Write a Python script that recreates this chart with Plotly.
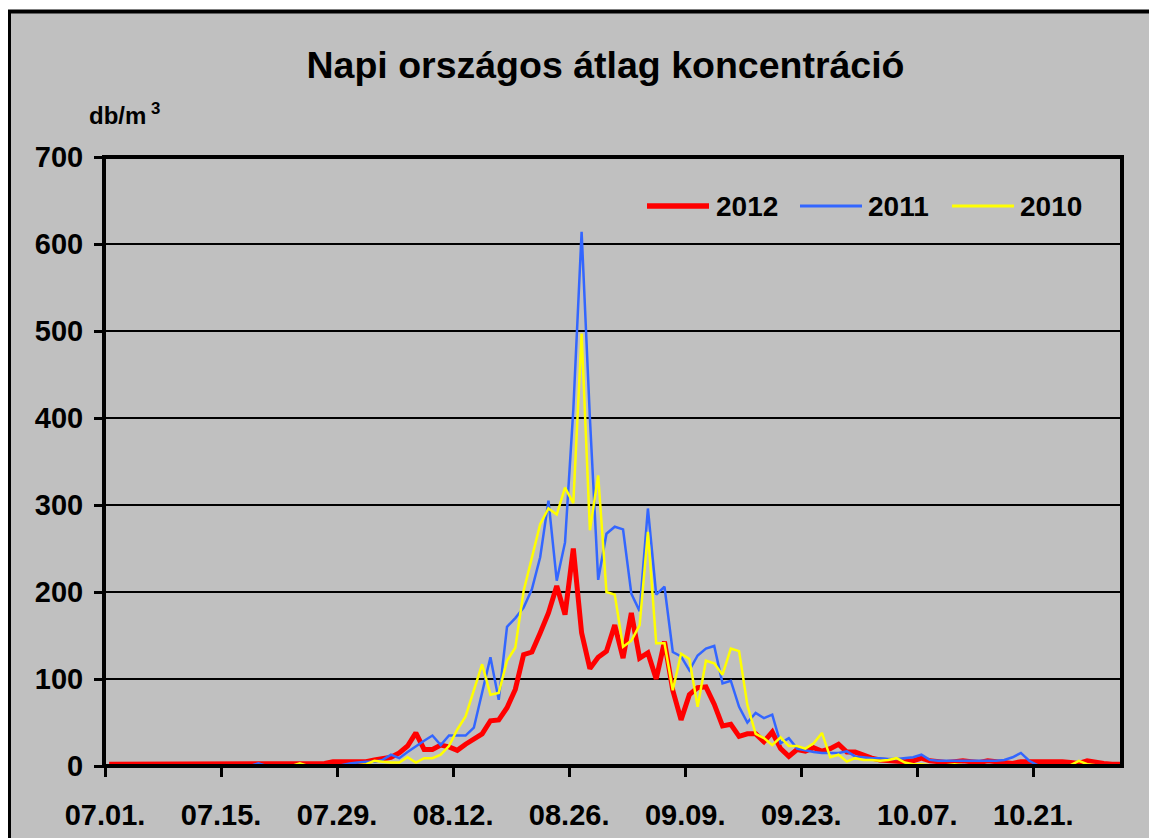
import pandas as pd
import plotly.graph_objects as go

# ---------------- data ----------------
dates = pd.date_range("2012-07-01", "2012-10-31", freq="D")

series_names = ["2012", "2011", "2010"]

y2012 = ([2] * 26 +
         [3, 5, 5, 5, 5, 5, 7, 8, 10, 15, 23, 38, 19, 19, 24, 22, 18, 25, 31, 37,
          52, 53, 67, 88, 128, 131, 153, 176, 207, 174, 250, 153, 112, 125, 132, 162,
          124, 176, 124, 130, 100, 143, 87, 53, 82, 90, 91, 71, 46, 48, 34, 37, 37,
          28, 39, 20, 11, 19, 17, 21, 17, 20, 25, 16, 16, 12, 9, 7, 6, 5, 5, 6, 9,
          6, 5, 4, 5, 6, 5, 4, 6, 5, 4, 3, 5, 5, 6, 6, 6, 5, 4, 3, 6, 4, 3, 2, 2])

y2011 = ([0] * 18 + [3] + [0] * 9 +
         [1, 3, 4, 5, 5, 7, 13, 9, 16, 23, 29, 35, 24, 35, 35, 35, 44, 86, 125, 76,
          160, 170, 182, 203, 240, 305, 213, 257, 410, 614, 400, 214, 267, 275, 272,
          198, 178, 296, 197, 206, 131, 126, 110, 127, 135, 138, 95, 98, 68, 50, 61,
          55, 59, 26, 32, 20, 18, 16, 15, 15, 15, 17, 11, 10, 9, 9, 8, 8, 9, 10, 13,
          7, 6, 6, 6, 6, 6, 6, 6, 6, 7, 10, 15, 6] + [1] * 11)

y2010 = ([0] * 23 + [3] + [0] * 3 +
         [1, 1, 1, 1, 2, 6, 5, 4, 4, 10, 4, 9, 9, 13, 23, 42, 57, 86, 117, 82, 84,
          121, 136, 201, 239, 278, 296, 289, 320, 302, 497, 271, 334, 200, 197, 137,
          144, 162, 269, 141, 141, 87, 129, 123, 68, 121, 118, 105, 135, 132, 70, 37,
          32, 24, 33, 23, 23, 20, 26, 38, 10, 13, 5, 9, 7, 7, 6, 7, 9, 4, 2, 2, 1,
          1, 1, 2, 1, 1, 1, 1, 1, 1, 1, 1, 1, 1, 1, 1, 1, 1, 6, 2, 1, 1, 1, 1])

series_values = [y2012, y2011, y2010]
for v in series_values:
    assert len(v) == len(dates), len(v)

title_text = "Napi országos átlag koncentráció"
unit_text = "db/m<sup> 3</sup>"

# ---------------- styles ----------------
colors = ["#FF0000", "#3366FF", "#FFFF00"]
widths = [5, 2.5, 2.5]
FONT = "Liberation Sans, Arial, sans-serif"
GRAY = "#C0C0C0"

W, H = 1157, 838
OFF = 8  # page body margin shift

# plot area geometry in figure px
L, R, T, B = 96, 43, 149, 80
PW = W - L - R
PH = H - T - B


def px_x(xs):
    """screen x -> paper x"""
    return (xs - OFF - L) / PW


def px_y(ys):
    """screen y -> paper y"""
    return (H - B - (ys - OFF)) / PH


fig = go.Figure()
for name, vals, col, lw in zip(series_names, series_values, colors, widths):
    fig.add_trace(go.Scatter(
        x=dates, y=vals, mode="lines", name=name,
        line=dict(color=col, width=lw),
        xperiod=86400000, xperiodalignment="middle",
        showlegend=False, hoverinfo="x+y+name"))

fig.update_layout(
    template="none",
    width=W, height=H, autosize=False,
    paper_bgcolor="white", plot_bgcolor=GRAY,
    margin=dict(l=L, r=R, t=T, b=B, pad=0, autoexpand=False),
    font=dict(family=FONT, color="black"),
    title=dict(text="<b>" + title_text + "</b>", x=(605.5 - OFF) / W, xref="container",
               xanchor="center", y=1 - (65 - OFF) / H, yref="container", yanchor="middle",
               font=dict(size=37.5, family=FONT, color="black")),
    showlegend=False,
)

fig.update_xaxes(
    type="date", automargin=False,
    range=["2012-06-30 21:00", "2012-10-31 16:48"],
    tick0="2012-07-01", dtick=14 * 86400000, tickformat="%m.%d.",
    ticks="outside", ticklen=10, tickwidth=3, tickcolor="black",
    showline=False, showgrid=False, zeroline=False,
    tickfont=dict(size=29, family=FONT, color="black", weight="bold"),
    ticklabelstandoff=13,
)
fig.update_yaxes(
    range=[0, 700], tick0=0, dtick=100, automargin=False,
    ticks="outside", ticklen=9, tickwidth=3, tickcolor="black",
    showline=False,
    showgrid=True, gridcolor="black", gridwidth=2, zeroline=False,
    tickfont=dict(size=29, family=FONT, color="black", weight="bold"),
    ticklabelstandoff=5,
)

# outer chart frame
fig.add_shape(type="rect", xref="paper", yref="paper",
              x0=px_x(9), x1=px_x(1180), y0=px_y(870), y1=px_y(11.5),
              fillcolor=GRAY, line=dict(color="black", width=4), layer="below")

# plot area frame (centered on the plot edges, like the axis lines)
fig.add_shape(type="rect", xref="paper", yref="paper", x0=0, x1=1, y0=0, y1=1,
              line=dict(color="black", width=4), fillcolor="rgba(0,0,0,0)", layer="above")

# unit label
fig.add_annotation(text="<b>" + unit_text + "</b>", xref="paper", yref="paper",
                   x=px_x(87), y=px_y(114), xanchor="left", yanchor="middle",
                   showarrow=False, font=dict(size=24, family=FONT, color="black"))

# legend (manual, inside plot)
leg_y = px_y(206)
leg_lines = [(647, 709), (800, 862), (952, 1014)]
leg_text_x = [714, 866, 1018]
for (x0, x1), tx, name, col, lw in zip(leg_lines, leg_text_x, series_names, colors, widths):
    fig.add_shape(type="line", xref="paper", yref="paper",
                  x0=px_x(x0), x1=px_x(x1), y0=leg_y, y1=leg_y,
                  line=dict(color=col, width=lw + 0.5))
    fig.add_annotation(text="<b>" + name + "</b>", xref="paper", yref="paper",
                       x=px_x(tx), y=leg_y, xanchor="left", yanchor="middle",
                       showarrow=False, font=dict(size=28, family=FONT, color="black"))

fig.write_html("out.html")
